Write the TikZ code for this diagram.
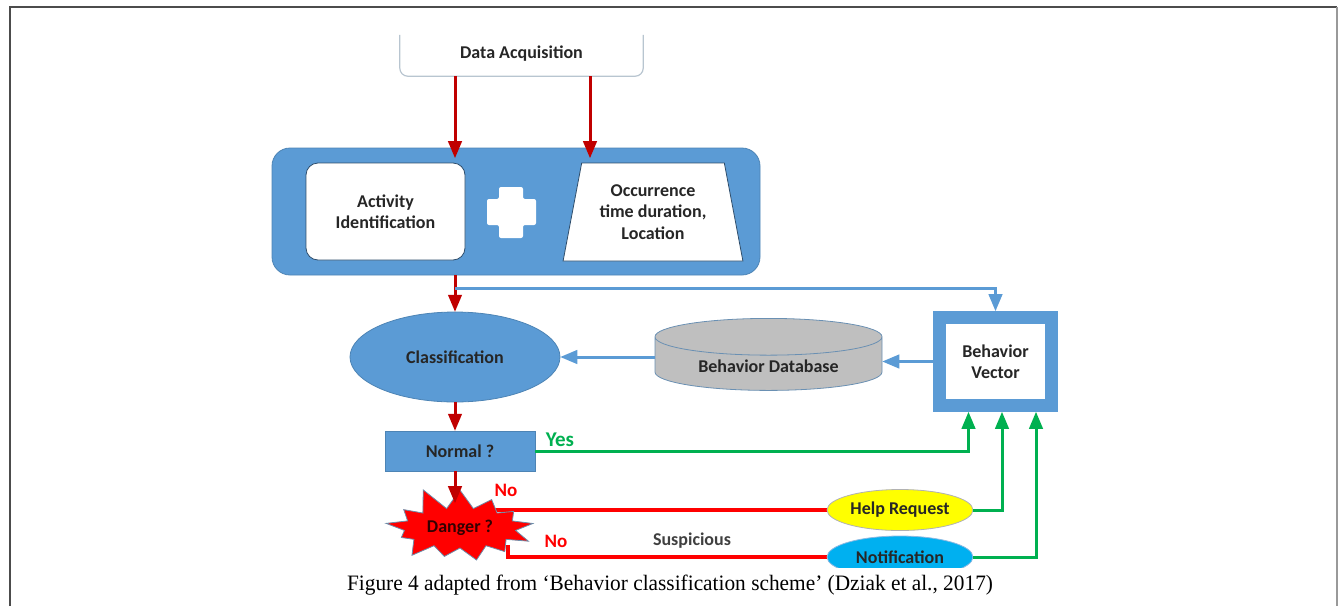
\documentclass[tikz,border=0pt]{standalone}
\usepackage{fontspec}
\setmainfont{Carlito}
\newfontfamily\capfont{Liberation Serif}
\usetikzlibrary{arrows}
\usetikzlibrary{shapes.geometric}
\usetikzlibrary{shapes.symbols}
\usetikzlibrary{backgrounds}
\usetikzlibrary{calc}

\definecolor{officeblue}{RGB}{91,155,213}
\definecolor{darkred}{RGB}{192,0,0}
\definecolor{brightred}{RGB}{255,0,0}
\definecolor{okgreen}{RGB}{0,176,80}
\definecolor{helpyellow}{RGB}{255,255,0}
\definecolor{notecyan}{RGB}{0,176,240}
\definecolor{dbgray}{RGB}{191,191,191}
\definecolor{txtgray}{RGB}{38,38,38}

\tikzset{
  lbl/.style={font=\bfseries\fontsize{18}{21.5}\selectfont, text=txtgray, align=center},
  bluefill/.style={lbl, fill=officeblue, draw=officeblue!85!black, line width=0.8pt},
  whitebox/.style={lbl, fill=white, draw=officeblue!50!black, line width=0.8pt},
  redarrow/.style={draw=darkred, line width=3pt, -triangle 45},
  blueline/.style={draw=officeblue, line width=3pt, -triangle 45},
  greenline/.style={draw=okgreen, line width=3pt, -triangle 45},
  redline/.style={draw=brightred, line width=3.5pt},
  answer/.style={font=\bfseries\fontsize{21}{23}\selectfont}
}

\begin{document}
\begin{tikzpicture}[x=1pt, y=-1pt]
\useasboundingbox (0,0) rectangle (1339,606);

% frame
\draw[black!70, line width=2.5pt] (10,606) -- (10,7) -- (1337,7);
\draw[black!40, line width=2pt] (1337,7) -- (1337,606);

% data acquisition
\node[lbl, minimum width=243pt, minimum height=41pt] (DAcq) at (521.5,55.5) {\raisebox{6pt}{Data Acquisition}};
\draw[officeblue!40!gray!50, line width=1.2pt, rounded corners=8pt] (DAcq.north west) -- (DAcq.south west) -- (DAcq.south east) -- (DAcq.north east);

% feature panel
\node[bluefill, rounded corners=18pt, minimum width=488pt, minimum height=127pt] (Panel) at (516,211.5) {};
\node[whitebox, rounded corners=12pt, minimum width=159pt, minimum height=97pt] (Activity) at (385.5,211.5) {Activity\\Identification};
\node[whitebox, trapezium, trapezium left angle=76, trapezium right angle=76, trapezium stretches=true, minimum width=180pt, minimum height=98pt, inner sep=1pt] (Occur) at (653,212) {Occurrence\\time duration,\\Location};
\fill[white, rounded corners=2pt] (499,187) -- (523,187) -- (523,199) -- (536,199) -- (536,225) -- (523,225) -- (523,238) -- (499,238) -- (499,225) -- (487,225) -- (487,199) -- (499,199) -- cycle;

\coordinate (InA) at (455,158);
\coordinate (InB) at (590,158);
\draw[redarrow] (DAcq.south -| InA) -- (InA);
\draw[redarrow] (DAcq.south -| InB) -- (InB);

% classification row
\node[bluefill, ellipse, minimum width=210pt, minimum height=90pt] (Classif) at (455,357) {Classification};
\node[lbl, cylinder, shape border rotate=90, aspect=0.25, minimum width=227pt, minimum height=72pt, fill=dbgray, draw=officeblue!60!gray, line width=0.8pt] (BDb) at (768.5,366) {\raisebox{-7pt}{Behavior Database}};
\node[lbl, fill=white, draw=officeblue, line width=13pt, minimum width=112pt, minimum height=88pt] (BVec) at (995.5,361.5) {Behavior\\Vector};

\coordinate (Fork) at (455,288);
\draw[redarrow] (Panel.south -| Classif) -- (Classif.north);
\draw[blueline] (Fork) -| (BVec.north);
\draw[blueline] (BVec.west) -- (BVec.west -| BDb.east);
\draw[blueline] (BDb.west |- Classif) -- (Classif.east);

% decisions
\node[bluefill, minimum width=150pt, minimum height=40pt] (Normal) at (460,451) {Normal ?};
\node[lbl, starburst, starburst points=13, starburst point height=24pt, random starburst=11, fill=brightred, draw=officeblue!50!gray, line width=0.8pt, text=black!80!red, minimum width=160pt, minimum height=88pt, inner sep=0pt] (Danger) at (460,528) {Danger ?};

\node[lbl, ellipse, fill=helpyellow, draw=gray!60, line width=0.8pt, minimum width=146pt, minimum height=41pt, inner sep=0pt] (Help) at (900,510) {Help Request};
\begin{scope}
\clip (0,0) rectangle (1339,567);
\node[lbl, ellipse, fill=notecyan, draw=officeblue!70, line width=0.8pt, minimum width=146pt, minimum height=42pt, inner sep=0pt] (Notif) at (900,557) {Notification};
\end{scope}

\draw[redarrow] (Classif.south) -- (Classif.south |- Normal.north);
\draw[redarrow] (Normal.south -| Classif) -- ($(Danger.center)+(-5,-25)$);

\begin{scope}[on background layer]
\draw[redline] (Danger.center |- Help.west) -- (Help.west);
\draw[redline] ($(Danger.center)+(48,17)$) |- (Notif.west);
\end{scope}

\draw[greenline] (Normal.east) -| ([xshift=-27pt]BVec.south);
\draw[greenline] (Help.east) -| ([xshift=6.5pt]BVec.south);
\draw[greenline] (Notif.east) -| ([xshift=40.5pt]BVec.south);

% labels
\node[answer, text=okgreen] (YesLbl) at (560,440) {Yes};
\node[answer, text=brightred, font=\bfseries\fontsize{19}{21}\selectfont] (NoA) at (506,490) {No};
\node[answer, text=brightred, font=\bfseries\fontsize{19}{21}\selectfont] (NoB) at (556,541) {No};
\node[lbl, text=black!75] (Susp) at (692,541) {Suspicious};

% caption
\node[font=\capfont\fontsize{22}{24}\selectfont] (Caption) at (670,585) {\scalebox{0.97}[1]{Figure 4 adapted from ‘Behavior classification scheme’ (Dziak et al., 2017)}};

\end{tikzpicture}
\end{document}
